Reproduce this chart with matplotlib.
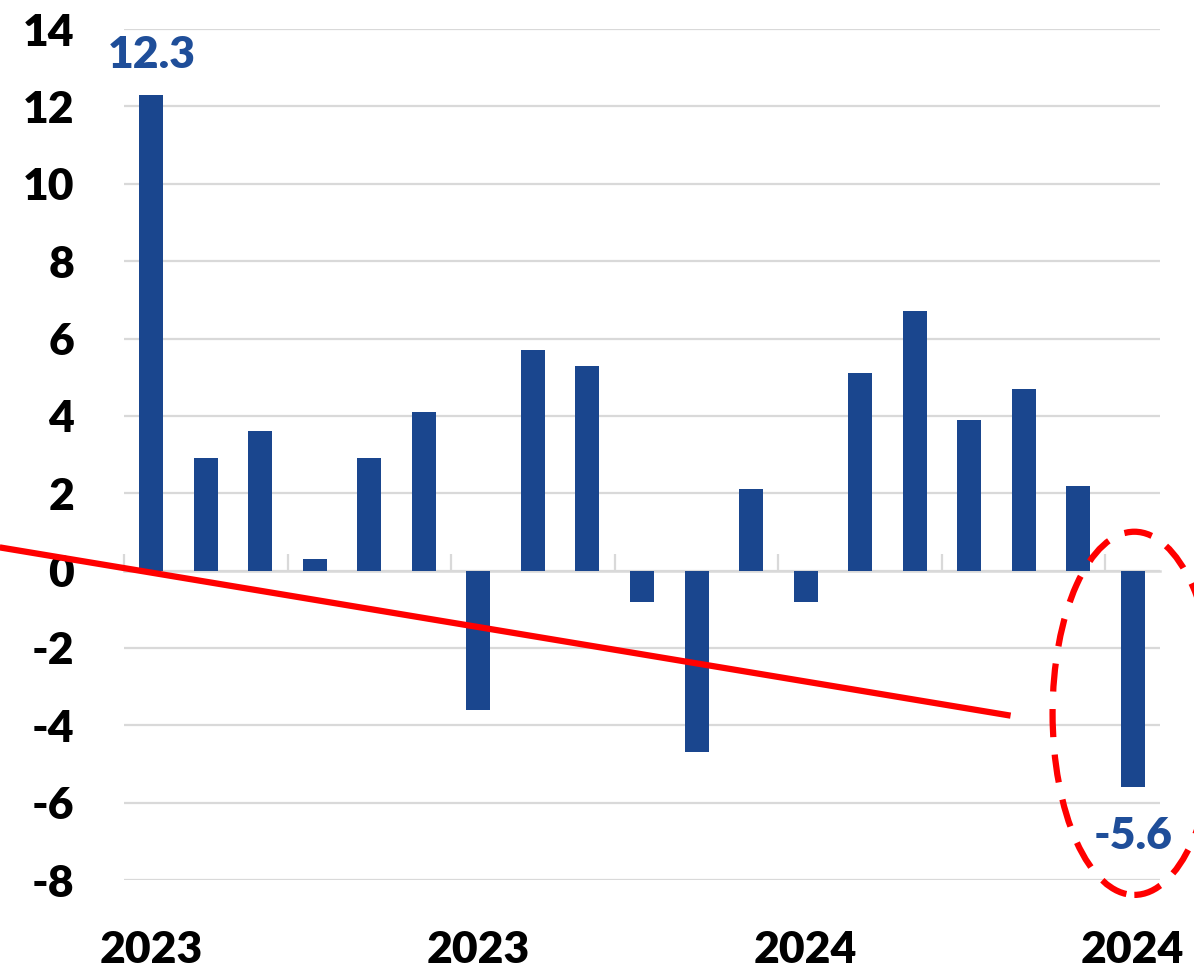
import matplotlib
matplotlib.use("Agg")
import matplotlib.pyplot as plt
from matplotlib.patches import Ellipse
import numpy as np

plt.rcParams['font.family'] = ['Lato', 'DejaVu Sans']

# ---- data ----
values = [12.3, 2.9, 3.6, 0.3, 2.9, 4.1, -3.6, 5.7, 5.3, -0.8,
          -4.7, 2.1, -0.8, 5.1, 6.7, 3.9, 4.7, 2.2, -5.6]
label_pos = [0, 6, 12, 18]
label_text = ['2023', '2023', '2024', '2024']
boundary_ticks = [-0.5, 2.5, 5.5, 8.5, 11.5, 14.5, 17.5]
y_ticks = [-8, -6, -4, -2, 0, 2, 4, 6, 8, 10, 12, 14]
annot_idx = [0, 18]
# annotation red line (data coords)
trend_x = [-2.78, 15.76]
trend_y = [0.60, -3.75]
# highlight ellipse (center x, center y, width, height)
ell_cx, ell_cy, ell_w, ell_h = 18.03, -3.69, 3.0, 9.39

bar_color = '#1A468E'
label_color = '#1F4E99'
grid_color = '#D9D9D9'
FW = 'heavy'

fig = plt.figure(figsize=(11.94, 9.68), dpi=100)
ax = fig.add_axes([0.1039, 0.0909, 0.8676, 0.879])

x = np.arange(len(values))
ax.bar(x, values, width=0.44, color=bar_color, zorder=3)

ax.set_xlim(-0.5, len(values) - 0.5)
ax.set_ylim(-8, 14)
ax.set_yticks(y_ticks)
ax.set_yticklabels([str(v) for v in y_ticks], fontsize=32, fontweight=FW)
ax.tick_params(axis='y', length=0, pad=36)
ax.yaxis.grid(True, color=grid_color, linewidth=1.6, zorder=0)
ax.set_axisbelow(True)

for s in ['left', 'right', 'top']:
    ax.spines[s].set_visible(False)
ax.spines['bottom'].set_position(('data', 0))
ax.spines['bottom'].set_color(grid_color)
ax.spines['bottom'].set_linewidth(1.8)
ax.spines['bottom'].set_zorder(2)
ax.set_xticks(boundary_ticks)
ax.set_xticklabels([])
ax.tick_params(axis='x', direction='in', length=12, width=1.6, color=grid_color)

sec = ax.secondary_xaxis('bottom')
sec.set_xticks(label_pos)
sec.set_xticklabels(label_text, fontsize=32, fontweight=FW)
sec.tick_params(axis='x', length=0, pad=36)
sec.spines['bottom'].set_visible(False)

# value labels
ax.annotate(f"{values[annot_idx[0]]}", (annot_idx[0], values[annot_idx[0]]),
            xytext=(0, 14), textcoords='offset points', ha='center', va='bottom',
            fontsize=32, fontweight=FW, color=label_color, zorder=5)
ax.annotate(f"{values[annot_idx[1]]}", (annot_idx[1], values[annot_idx[1]]),
            xytext=(0, -21), textcoords='offset points', ha='center', va='top',
            fontsize=32, fontweight=FW, color=label_color, zorder=5)

# red line
ax.plot(trend_x, trend_y, color='#FF0000', linewidth=4.5, clip_on=False,
        solid_capstyle='butt', zorder=4)

# dashed ellipse
ell = Ellipse((ell_cx, ell_cy), ell_w, ell_h, fill=False, edgecolor='#FF0000',
              linewidth=4.5, linestyle=(0, (4.5, 2.8)), clip_on=False, zorder=4)
ax.add_patch(ell)

fig.savefig('out.png', dpi=100)
